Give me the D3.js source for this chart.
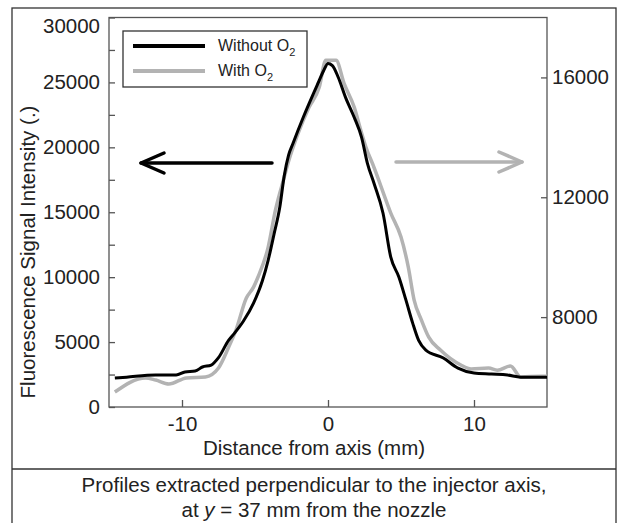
<!DOCTYPE html>
<html>
<head>
<meta charset="utf-8">
<script src="https://cdn.jsdelivr.net/npm/d3@7"></script>
<style>
  body { margin: 0; background: #fff; }
  svg text { font-family: "Liberation Sans", Arial, Helvetica, sans-serif; fill: #222; }
</style>
</head>
<body>
<div id="chart"></div>
<script>
// distance from axis (mm) and intensity
var withoutX = [-14.6, -13.8, -11.8, -10.4, -9.8, -9.1, -8.6, -8.0, -7.5, -6.8, -6.4, -5.8, -5.1, -4.5, -4.1, -3.7, -3.3, -3.0, -2.7, -2.4, -1.7, -0.7, -0.3, 0, 0.3, 0.7, 1.2, 1.8, 2.3, 2.7, 3.15, 3.77, 4.3, 4.86, 5.34, 5.8, 6.2, 6.7, 7.9, 8.9, 10.0, 11.2, 12.3, 13.2, 15.0];
var withoutY = [2230, 2300, 2460, 2460, 2700, 2770, 3080, 3230, 3800, 5150, 5690, 6600, 8000, 9700, 11300, 13300, 15400, 17800, 19400, 20300, 22300, 24900, 25900, 26460, 26300, 25400, 23850, 22300, 20770, 18770, 17230, 14920, 11540, 10000, 8230, 6460, 5150, 4380, 3770, 3000, 2620, 2540, 2460, 2300, 2300];

var withX = [-14.6, -12.5, -11.8, -10.9, -9.7, -8.4, -7.5, -6.8, -6.3, -5.6, -5.1, -4.8, -4.1, -3.6, -3.0, -2.7, -2.05, -1.3, -0.6, -0.15, 0.55, 1.1, 1.8, 2.25, 2.6, 3.15, 3.4, 4.3, 5.0, 5.5, 5.9, 6.4, 6.9, 7.7, 9.1, 9.8, 11.0, 11.6, 12.5, 13.2, 14.6, 15.0];
var withY = [5500, 5970, 5900, 5770, 5970, 6000, 6300, 7000, 7570, 8630, 9000, 9330, 10330, 11570, 12670, 13200, 14130, 15000, 15670, 16570, 16570, 15800, 15000, 14230, 13670, 13000, 12670, 11470, 10670, 9670, 8570, 7900, 7330, 6900, 6400, 6270, 6300, 6230, 6370, 6000, 6030, 6030];

var xTicks = [-10, 0, 10];
var leftTicks = [0, 5000, 10000, 15000, 20000, 25000, 30000];
var leftMinor = [2500, 7500, 12500, 17500, 22500, 27500];
var rightTicks = [8000, 12000, 16000];
var legendLabels = ["Without O", "With O"];

var width = 619, height = 523;
var svg = d3.select("#chart").append("svg").attr("width", width).attr("height", height);

var x = d3.scaleLinear().domain([-15, 15]).range([109, 547]);
var yL = d3.scaleLinear().domain([0, 30000]).range([407, 17.5]);
var yR = d3.scaleLinear().domain([5000, 18000]).range([407, 17.5]);

var axisColor = "#555";
var fmt = function (d) { return String(d); };   // plain hyphen for negatives

// outer frame and caption divider
svg.append("rect").attr("x", 12).attr("y", 8).attr("width", 604).attr("height", 530)
  .attr("fill", "none").attr("stroke", "#333").attr("stroke-width", 1.3);
svg.append("line").attr("x1", 12).attr("x2", 616).attr("y1", 469).attr("y2", 469)
  .attr("stroke", "#333").attr("stroke-width", 1.3);

// plot box
svg.append("rect").attr("x", x(-15)).attr("y", yL(30000))
  .attr("width", x(15) - x(-15)).attr("height", yL(0) - yL(30000))
  .attr("fill", "none").attr("stroke", axisColor).attr("stroke-width", 1.3);

function styleAxis(g) {
  g.select(".domain").remove();
  g.selectAll("line").attr("stroke", axisColor).attr("stroke-width", 1.3);
  g.selectAll("text").attr("font-size", 20.5).attr("fill", "#222")
    .attr("font-family", "'Liberation Sans', Arial, sans-serif");
}

svg.append("g").attr("transform", "translate(0,407)")
  .call(d3.axisBottom(x).tickValues(xTicks).tickSize(-7).tickPadding(9).tickFormat(fmt))
  .call(styleAxis);

var leftAxis = svg.append("g").attr("transform", "translate(109,0)")
  .call(d3.axisLeft(yL).tickValues(leftTicks).tickSize(-6).tickPadding(9).tickFormat(fmt))
  .call(styleAxis);
// top label sits a little below its tick, as in the figure
leftAxis.selectAll(".tick text").filter(function (d) { return d === 30000; }).attr("dy", "0.72em");
svg.append("g").attr("transform", "translate(109,0)")
  .call(d3.axisLeft(yL).tickValues(leftMinor).tickSize(-6).tickFormat(""))
  .call(styleAxis);

svg.append("g").attr("transform", "translate(547,0)")
  .call(d3.axisRight(yR).tickValues(rightTicks).tickSize(-6).tickPadding(5).tickFormat(fmt))
  .call(styleAxis);

// axis titles
svg.append("text").attr("x", 314).attr("y", 455).attr("text-anchor", "middle")
  .attr("font-size", 20.5).text("Distance from axis (mm)");
svg.append("text").attr("transform", "translate(35,252) rotate(-90)").attr("text-anchor", "middle")
  .attr("font-size", 20.5).text("Fluorescence Signal Intensity (.)");

// curves
var lineL = d3.line().curve(d3.curveMonotoneX).x(function (d) { return x(d[0]); }).y(function (d) { return yL(d[1]); });
var lineR = d3.line().curve(d3.curveMonotoneX).x(function (d) { return x(d[0]); }).y(function (d) { return yR(d[1]); });

svg.append("path").datum(d3.zip(withX, withY)).attr("d", lineR)
  .attr("fill", "none").attr("stroke", "#b3b3b3").attr("stroke-width", 3.5).attr("stroke-linejoin", "round");
svg.append("path").datum(d3.zip(withoutX, withoutY)).attr("d", lineL)
  .attr("fill", "none").attr("stroke", "#000").attr("stroke-width", 3).attr("stroke-linejoin", "round");

// arrows pointing to each curve's axis
function arrow(x1, x2, y, color, dir) {
  var g = svg.append("g").attr("stroke", color).attr("stroke-width", 3.5)
    .attr("fill", "none").attr("stroke-linecap", "round").attr("stroke-linejoin", "round");
  g.append("line").attr("x1", x1).attr("x2", x2).attr("y1", y).attr("y2", y);
  var tip = dir < 0 ? x1 : x2;
  g.append("path").attr("d", "M" + (tip - dir * 23) + "," + (y - 10) + "L" + tip + "," + y + "L" + (tip - dir * 23) + "," + (y + 10));
}
arrow(141, 272, 163, "#000", -1);
arrow(396, 522, 162, "#b3b3b3", 1);

// legend
var leg = svg.append("g");
leg.append("rect").attr("x", 123).attr("y", 31).attr("width", 184).attr("height", 56)
  .attr("fill", "#fff").attr("stroke", "#333").attr("stroke-width", 1.3);
var legColors = ["#000", "#b3b3b3"];
legendLabels.forEach(function (lab, i) {
  var yy = 46 + i * 25;
  leg.append("line").attr("x1", 133).attr("x2", 205).attr("y1", yy).attr("y2", yy)
    .attr("stroke", legColors[i]).attr("stroke-width", 4);
  var t = leg.append("text").attr("x", 218).attr("y", yy + 5).attr("font-size", 16);
  t.append("tspan").text(lab);
  t.append("tspan").attr("dy", 5).attr("font-size", 11).text("2");
});

// caption
svg.append("text").attr("x", 314).attr("y", 492).attr("text-anchor", "middle").attr("font-size", 20.5)
  .text("Profiles extracted perpendicular to the injector axis,");
var cap = svg.append("text").attr("x", 314).attr("y", 517).attr("text-anchor", "middle").attr("font-size", 20.5);
cap.append("tspan").text("at ");
cap.append("tspan").attr("font-style", "italic").text("y");
cap.append("tspan").text(" = 37 mm from the nozzle");
</script>
</body>
</html>
